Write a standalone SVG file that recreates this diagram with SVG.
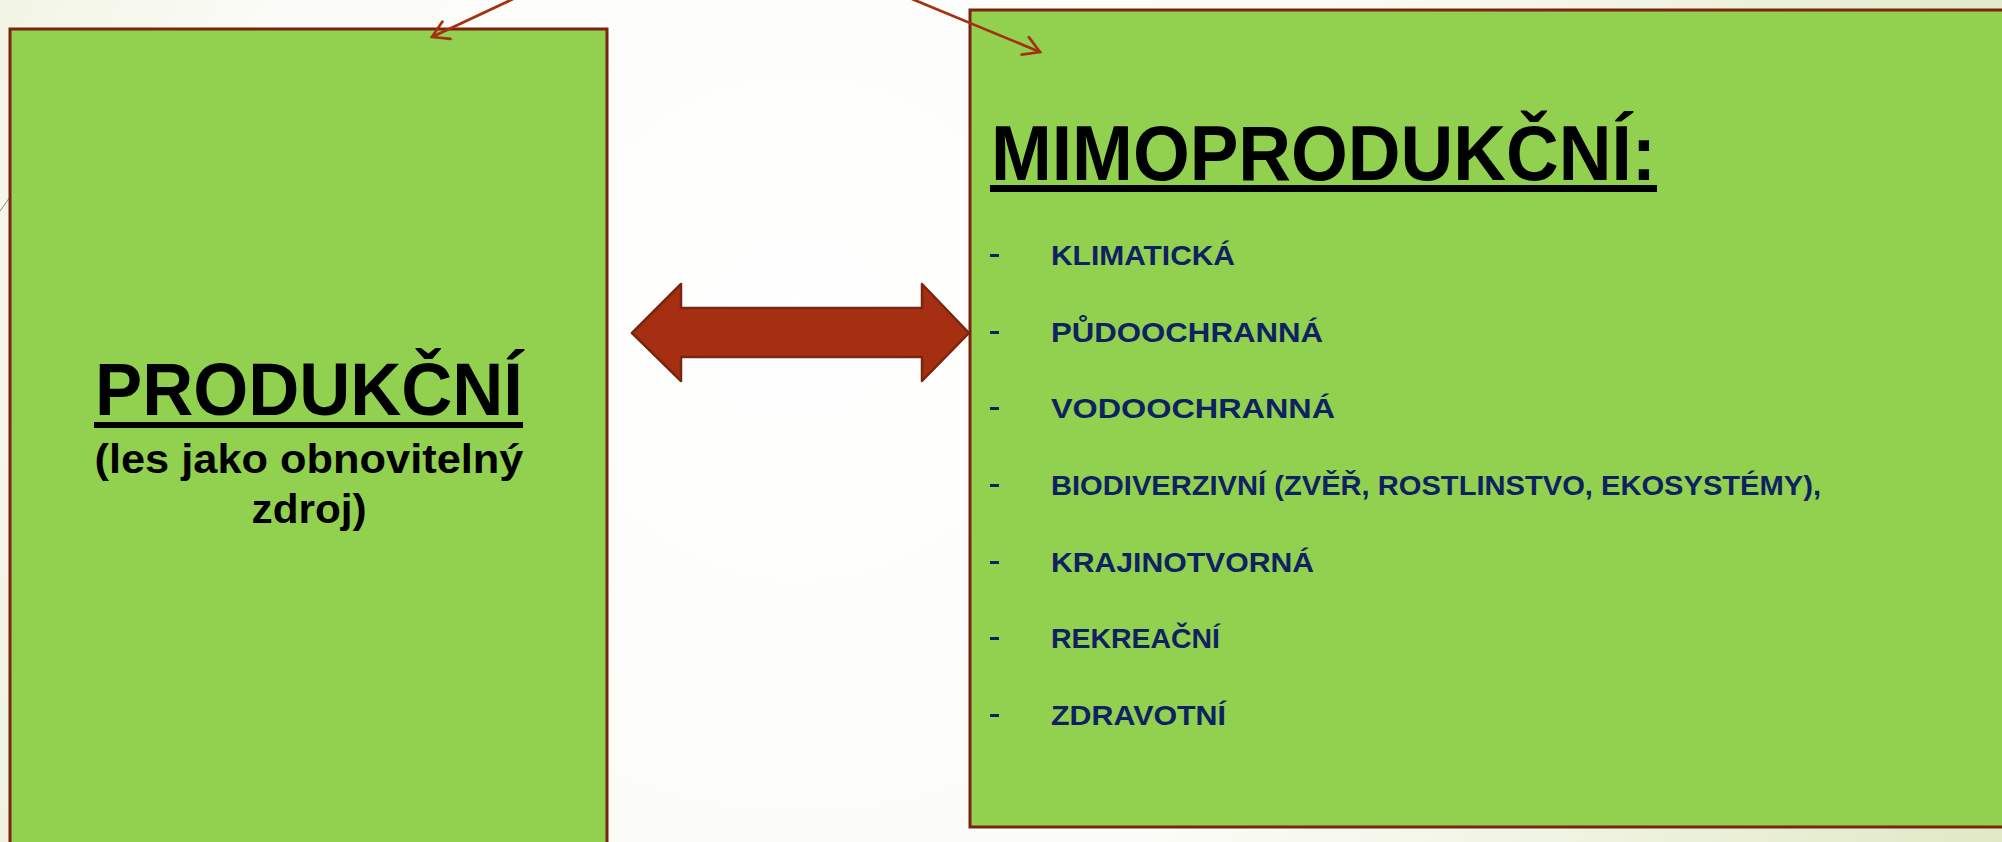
<svg xmlns="http://www.w3.org/2000/svg" width="2002" height="842" viewBox="0 0 2002 842">
<defs>
<radialGradient id="bg" cx="800" cy="330" r="1350" gradientUnits="userSpaceOnUse">
<stop offset="0" stop-color="#ffffff"/>
<stop offset="0.45" stop-color="#fbfcf7"/>
<stop offset="1" stop-color="#dfe7c2"/>
</radialGradient>
<marker id="open" viewBox="-20 -12 24 24" refX="0" refY="0" markerWidth="24" markerHeight="24" markerUnits="userSpaceOnUse" orient="auto">
<path d="M-16,-9.5 L0,0 L-16,9.5" fill="none" stroke="#A33011" stroke-width="2.7" stroke-linecap="round"/>
</marker>
<style>
.box{fill:#92D050;stroke:#7B2412;stroke-width:3}
.head{font-family:"Liberation Sans",Arial,sans-serif;font-weight:bold;fill:#000}
.sub{font-family:"Liberation Sans",Arial,sans-serif;font-weight:bold;fill:#000;font-size:40px}
.item{font-family:"Liberation Sans",Arial,sans-serif;font-weight:bold;fill:#0E2160;font-size:28px}
.dash{fill:#0E2160}
.ul{fill:#000}
.thin{fill:none;stroke:#A33011;stroke-width:2.7}
</style>
</defs>
<rect x="0" y="0" width="2002" height="842" fill="url(#bg)"/>
<line x1="0" y1="211" x2="10" y2="197" stroke="#8a8f80" stroke-width="1"/>

<g id="produkcni">
<rect class="box" x="10" y="29" width="597" height="840"/>
<text class="head" x="309" y="415" font-size="74" text-anchor="middle" textLength="428" lengthAdjust="spacingAndGlyphs">PRODUKČNÍ</text>
<rect class="ul" x="94" y="422" width="429" height="6"/>
<text class="sub" x="309" y="473" text-anchor="middle" textLength="429" lengthAdjust="spacingAndGlyphs">(les jako obnovitelný</text>
<text class="sub" x="309" y="523" text-anchor="middle" textLength="115" lengthAdjust="spacingAndGlyphs">zdroj)</text>
</g>

<g id="mimoprodukcni">
<rect class="box" x="970" y="10" width="1050" height="817"/>
<text class="head" x="991" y="180" font-size="77" textLength="665" lengthAdjust="spacingAndGlyphs">MIMOPRODUKČNÍ:</text>
<rect class="ul" x="990" y="185" width="667" height="7"/>
<g id="items">
<rect class="dash" x="990" y="254" width="9" height="3"/>
<text class="item" x="1051" y="265" textLength="184" lengthAdjust="spacingAndGlyphs">KLIMATICKÁ</text>
<rect class="dash" x="990" y="331" width="9" height="3"/>
<text class="item" x="1051" y="342" textLength="272" lengthAdjust="spacingAndGlyphs">PŮDOOCHRANNÁ</text>
<rect class="dash" x="990" y="407" width="9" height="3"/>
<text class="item" x="1051" y="418" textLength="284" lengthAdjust="spacingAndGlyphs">VODOOCHRANNÁ</text>
<rect class="dash" x="990" y="484" width="9" height="3"/>
<text class="item" x="1051" y="495" textLength="770" lengthAdjust="spacingAndGlyphs">BIODIVERZIVNÍ (ZVĚŘ, ROSTLINSTVO, EKOSYSTÉMY),</text>
<rect class="dash" x="990" y="561" width="9" height="3"/>
<text class="item" x="1051" y="572" textLength="263" lengthAdjust="spacingAndGlyphs">KRAJINOTVORNÁ</text>
<rect class="dash" x="990" y="637" width="9" height="3"/>
<text class="item" x="1051" y="648" textLength="169" lengthAdjust="spacingAndGlyphs">REKREAČNÍ</text>
<rect class="dash" x="990" y="714" width="9" height="3"/>
<text class="item" x="1051" y="725" textLength="175" lengthAdjust="spacingAndGlyphs">ZDRAVOTNÍ</text>
</g>
</g>

<g id="connectors">
<path d="M632,333 L681,284 L681,308 L922,308 L922,284 L969,333 L922,381 L922,357 L681,357 L681,381 Z" fill="#A52F10" stroke="#7B2412" stroke-width="2.5" stroke-linejoin="round"/>
<line class="thin" x1="513" y1="-1" x2="432" y2="37" marker-end="url(#open)"/>
<line class="thin" x1="912" y1="-1" x2="1040" y2="52" marker-end="url(#open)"/>
</g>
</svg>
